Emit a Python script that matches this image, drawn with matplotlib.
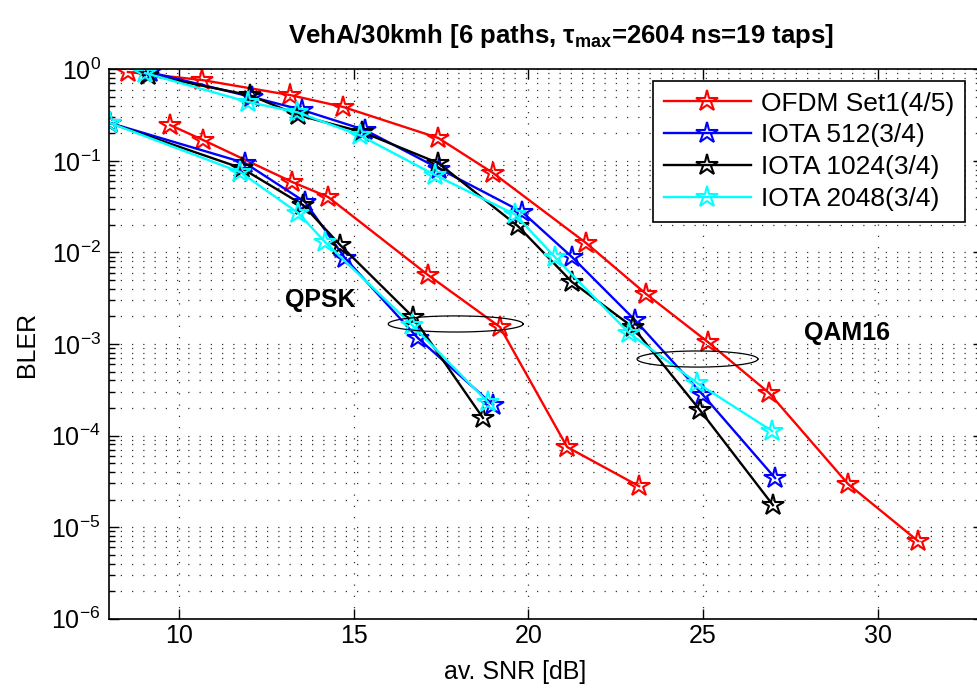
import numpy as np
import matplotlib
matplotlib.use("Agg")
import matplotlib.pyplot as plt
from matplotlib.ticker import NullFormatter, FixedLocator, LogFormatterSciNotation

plt.rcParams['font.family'] = ['Liberation Sans', 'DejaVu Sans']
plt.rcParams['mathtext.fontset'] = 'custom'
plt.rcParams['mathtext.rm'] = 'Liberation Sans'
plt.rcParams['mathtext.it'] = 'Liberation Sans:italic'
plt.rcParams['mathtext.bf'] = 'Liberation Sans:bold'
plt.rcParams['mathtext.default'] = 'regular'

# ---- BLER curves (SNR in dB) ----
ofdm_qpsk_snr = [9.75, 10.69, 13.24, 14.27, 17.13, 19.19, 21.11, 23.17]
ofdm_qpsk_bler = [0.246, 0.169, 0.0588, 0.0403, 0.00567, 0.00153, 7.5e-5, 2.8e-5]
ofdm_qam_snr = [8.54, 10.66, 13.18, 14.70, 17.42, 18.99, 21.65, 23.37, 25.14, 26.89, 29.15, 31.15]
ofdm_qam_bler = [0.934, 0.764, 0.523, 0.388, 0.178, 0.0737, 0.0127, 0.00352, 0.00105,
                 2.92e-4, 2.96e-5, 7.06e-6]

iota512_qpsk_snr = [8.03, 11.89, 13.61, 14.75, 16.84, 18.99]
iota512_qpsk_bler = [0.259, 0.0948, 0.0356, 0.0087, 0.00116, 2.16e-4]
iota512_qam_snr = [9.17, 12.09, 13.52, 15.33, 17.45, 19.82, 21.25, 23.05, 25.00, 27.06]
iota512_qam_bler = [0.93, 0.498, 0.36, 0.217, 0.082, 0.0277, 0.0089, 0.00183, 2.77e-4, 3.44e-5]

iota1024_qpsk_snr = [8.03, 11.80, 13.55, 14.61, 16.70, 18.70]
iota1024_qpsk_bler = [0.259, 0.083, 0.033, 0.0121, 0.00197, 1.56e-4]
iota1024_qam_snr = [9.12, 12.04, 13.41, 15.24, 17.42, 19.70, 21.25, 22.99, 24.91, 27.00]
iota1024_qam_bler = [0.87, 0.52, 0.316, 0.207, 0.0948, 0.0194, 0.00475, 0.00153, 1.9e-4, 1.74e-5]

iota2048_qpsk_snr = [8.03, 11.75, 13.41, 14.18, 16.67, 18.85]
iota2048_qpsk_bler = [0.259, 0.0756, 0.027, 0.013, 0.00161, 2.3e-4]
iota2048_qam_snr = [9.03, 11.98, 13.38, 15.18, 17.33, 19.62, 20.76, 22.88, 24.83, 26.98]
iota2048_qam_bler = [0.91, 0.44, 0.34, 0.19, 0.070, 0.0260, 0.0089, 0.00132, 3.75e-4, 1.12e-4]

series_labels = ['OFDM Set1(4/5)', 'IOTA 512(3/4)', 'IOTA 1024(3/4)', 'IOTA 2048(3/4)']
series_colors = ['#ff0000', '#0000ff', '#000000', '#00ffff']
x_ticks = [10, 15, 20, 25, 30]
y_decades = [-6, -5, -4, -3, -2, -1, 0]

curves = [
    (ofdm_qpsk_snr, ofdm_qpsk_bler, ofdm_qam_snr, ofdm_qam_bler),
    (iota512_qpsk_snr, iota512_qpsk_bler, iota512_qam_snr, iota512_qam_bler),
    (iota1024_qpsk_snr, iota1024_qpsk_bler, iota1024_qam_snr, iota1024_qam_bler),
    (iota2048_qpsk_snr, iota2048_qpsk_bler, iota2048_qam_snr, iota2048_qam_bler),
]

fig = plt.figure(figsize=(9.78, 6.91), dpi=100)
ax = fig.add_axes([0.1115, 0.1046, 0.8932, 0.7951])

style = dict(marker='*', markersize=16, markerfacecolor='none', markeredgewidth=1.5,
             linewidth=1.7)
for (qs, qb, ms, mb), lab, col in zip(curves, series_labels, series_colors):
    ax.plot(qs, qb, color=col, label=lab, **style)
    ax.plot(ms, mb, color=col, **style)

# modulation group ellipses (drawn in log-BLER space)
t = np.linspace(0, 2 * np.pi, 200)
for cx, cy, a, b in [(17.92, -2.781, 1.93, 0.088), (24.84, -3.164, 1.73, 0.088)]:
    ax.plot(cx + a * np.cos(t), 10 ** (cy + b * np.sin(t)), color='k', lw=0.9)

ax.text(14.04, 10 ** -2.52, 'QPSK', fontsize=18, fontweight='bold', ha='center', va='center')
ax.text(29.12, 10 ** -2.88, 'QAM16', fontsize=18, fontweight='bold', ha='center', va='center')

ax.set_yscale('log')
ax.set_xlim(8, 33)
ax.set_ylim(1e-6, 1)
ax.xaxis.set_major_locator(FixedLocator(x_ticks))
ax.yaxis.set_major_locator(FixedLocator([10.0 ** d for d in y_decades]))
ax.yaxis.set_major_formatter(LogFormatterSciNotation())
minor = [m * 10.0 ** d for d in y_decades[:-1] for m in range(2, 10)]
ax.yaxis.set_minor_locator(FixedLocator(minor))
ax.yaxis.set_minor_formatter(NullFormatter())

ax.grid(True, which='major', axis='both', color='0.2', linestyle=(0, (1, 8)), linewidth=0.9)
ax.grid(True, which='minor', axis='y', color='0.2', linestyle=(0, (1, 8)), linewidth=0.9)

ax.tick_params(which='both', direction='in', top=True, right=True, labelsize=18, width=1.0)
ax.tick_params(which='major', length=7)
ax.tick_params(which='minor', length=4)
ax.tick_params(axis='y', pad=6)
for sp in ax.spines.values():
    sp.set_linewidth(1.2)

ax.set_xlabel('av. SNR [dB]', fontsize=18)
ax.set_ylabel('BLER', fontsize=18)
ax.xaxis.set_label_coords(0.465, -0.075)
ax.yaxis.set_label_coords(-0.08, 0.5)

ax.set_title(r'VehA/30kmh [6 paths, $\tau_{\bf max}$=2604 ns=19 taps]',
             fontsize=18.5, fontweight='bold', pad=19, x=0.517)

leg = ax.legend(loc='upper right', bbox_to_anchor=(965 / 978, 1 - 81 / 691),
                bbox_transform=fig.transFigure, fontsize=19, frameon=True, fancybox=False,
                framealpha=1, edgecolor='k', handlelength=3.3, labelspacing=0.3,
                borderaxespad=0, handletextpad=0.4, borderpad=0.4)
leg.get_frame().set_linewidth(1.2)

fig.savefig('out.png', dpi=100)
